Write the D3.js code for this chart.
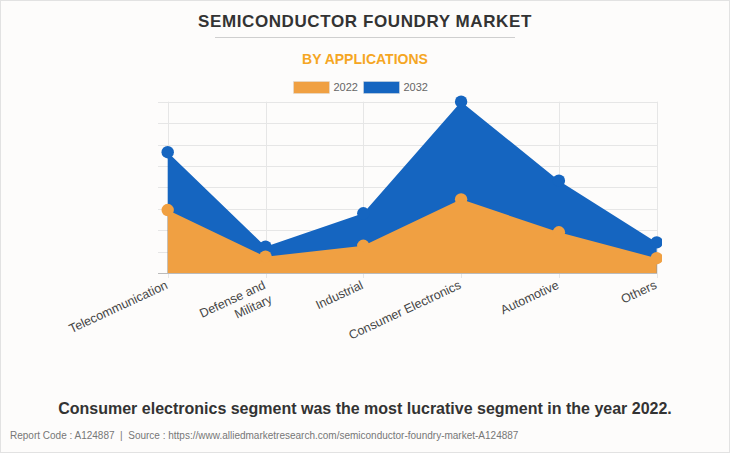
<!DOCTYPE html>
<html>
<head>
<meta charset="utf-8">
<script src="https://cdn.jsdelivr.net/npm/d3@7"></script>
<style>
  html, body { margin: 0; padding: 0; background: #fff; }
  svg { display: block; }
</style>
</head>
<body>
<svg id="chart" width="730" height="453"></svg>
<script>
const categories = ["Telecommunication", "Defense and Military", "Industrial", "Consumer Electronics", "Automotive", "Others"];
const categoryLines = [["Telecommunication"], ["Defense and", "Military"], ["Industrial"], ["Consumer Electronics"], ["Automotive"], ["Others"]];
const values2022 = [29.4, 7.6, 12.7, 34.4, 19.0, 6.9];
const values2032 = [56.4, 12.3, 27.9, 80.0, 43.1, 14.3];
const seriesNames = ["2022", "2032"];
const yTicks = [0, 10, 20, 30, 40, 50, 60, 70, 80];

const W = 730, H = 453;
const colors = { "2022": "#F0A042", "2032": "#1565C0" };

const svg = d3.select("#chart");
svg.append("rect").attr("x", 0.5).attr("y", 0.5).attr("width", W - 1).attr("height", H - 1)
  .attr("fill", "#fdfcfb").attr("stroke", "#e2e2e2");

// Titles
svg.append("text").attr("x", 365).attr("y", 27).attr("text-anchor", "middle")
  .attr("font-family", "Liberation Sans, Arial, sans-serif").attr("font-weight", "bold")
  .attr("font-size", 17).attr("fill", "#333").attr("letter-spacing", 0.6)
  .text("SEMICONDUCTOR FOUNDRY MARKET");
svg.append("line").attr("x1", 215).attr("x2", 515).attr("y1", 37.5).attr("y2", 37.5)
  .attr("stroke", "#cfcfcf").attr("stroke-width", 1);
svg.append("text").attr("x", 365).attr("y", 64).attr("text-anchor", "middle")
  .attr("font-family", "Liberation Sans, Arial, sans-serif").attr("font-weight", "bold")
  .attr("font-size", 14).attr("fill", "#F5A623")
  .text("BY APPLICATIONS");

// Legend
const legendX = [293.5, 363.5];
seriesNames.forEach((s, i) => {
  svg.append("rect").attr("x", legendX[i]).attr("y", 81.5).attr("width", 36).attr("height", 12)
    .attr("fill", colors[s]).attr("stroke", "#ddd").attr("stroke-width", 0.5);
  svg.append("text").attr("x", legendX[i] + 40).attr("y", 91)
    .attr("font-family", "Liberation Sans, Arial, sans-serif").attr("font-size", 11)
    .attr("fill", "#666").text(s);
});

// Scales
const x = d3.scalePoint().domain(categories).range([167.7, 656.7]);
const y = d3.scaleLinear().domain([0, 80]).range([273, 101.7]);

// Grid
const g = svg.append("g");
g.selectAll("line.h").data(yTicks).join("line")
  .attr("x1", 158).attr("x2", 657).attr("y1", d => Math.round(y(d)) + 0.5).attr("y2", d => Math.round(y(d)) + 0.5)
  .attr("stroke", d => d === 0 ? "#bbb" : "#e6e6e6").attr("stroke-width", 1);
g.selectAll("line.v").data(categories).join("line")
  .attr("x1", d => Math.round(x(d)) + 0.5).attr("x2", d => Math.round(x(d)) + 0.5)
  .attr("y1", y(80)).attr("y2", y(0) + 5)
  .attr("stroke", "#e6e6e6").attr("stroke-width", 1);

svg.append("defs").append("clipPath").attr("id", "clip")
  .append("rect").attr("x", 150).attr("y", 90).attr("width", 512).attr("height", 184);

const plot = svg.append("g").attr("clip-path", "url(#clip)");
const data = { "2022": values2022, "2032": values2032 };
["2032", "2022"].forEach(s => {
  const vals = data[s];
  const pts = categories.map((c, i) => [c, vals[i]]);
  const area = d3.area().x(d => x(d[0])).y0(y(0)).y1(d => y(d[1]));
  plot.append("path").datum(pts).attr("d", area).attr("fill", colors[s]);
  plot.selectAll(null).data(pts).join("circle")
    .attr("cx", d => x(d[0])).attr("cy", d => y(d[1])).attr("r", 6.2)
    .attr("fill", colors[s]);
});

// Baseline on top
svg.append("line").attr("x1", 158).attr("x2", 657).attr("y1", Math.round(y(0)) + 0.5).attr("y2", Math.round(y(0)) + 0.5)
  .attr("stroke", "#bbb");

// X labels
categories.forEach((c, i) => {
  const t = svg.append("text")
    .attr("transform", `translate(${x(c) - 1},${y(0) + 11}) rotate(-25)`)
    .attr("text-anchor", "end")
    .attr("font-family", "Liberation Sans, Arial, sans-serif").attr("font-size", 12.5)
    .attr("fill", "#444");
  categoryLines[i].forEach((ln, j) => {
    t.append("tspan").attr("x", 0).attr("dy", j === 0 ? "0.35em" : "1.25em").text(ln);
  });
});

// Caption & footer
svg.append("text").attr("x", 365).attr("y", 414).attr("text-anchor", "middle")
  .attr("font-family", "Liberation Sans, Arial, sans-serif").attr("font-weight", "bold")
  .attr("font-size", 16).attr("fill", "#333")
  .text("Consumer electronics segment was the most lucrative segment in the year 2022.");
svg.append("text").attr("x", 10).attr("y", 439)
  .attr("font-family", "Liberation Sans, Arial, sans-serif").attr("font-size", 10)
  .attr("fill", "#777")
  .text("Report Code : A124887  |  Source : https://www.alliedmarketresearch.com/semiconductor-foundry-market-A124887")
  .attr("xml:space", "preserve");
</script>
</body>
</html>
